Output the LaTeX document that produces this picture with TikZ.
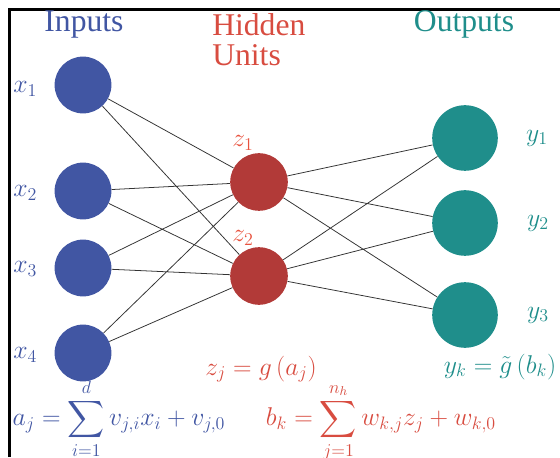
\documentclass[tikz,border=0pt]{standalone}
\usepackage{fix-cm}
\usepackage{amsmath,amssymb}
\usepackage{fontspec}
\setmainfont{Liberation Serif}
\usepackage{xcolor}
\usetikzlibrary{positioning}

\definecolor{inblue}{HTML}{4156A3}
\definecolor{hidred}{HTML}{B23A38}
\definecolor{outteal}{HTML}{1F8E8B}
\definecolor{txtred}{HTML}{D84C40}
\definecolor{lblred}{HTML}{E8533F}

\begin{document}
\begin{tikzpicture}[
  inunit/.style={circle, fill=inblue, minimum size=1.42cm, inner sep=0pt},
  hidunit/.style={circle, fill=hidred, minimum size=1.44cm, inner sep=0pt},
  outunit/.style={circle, fill=outteal, minimum size=1.64cm, inner sep=0pt},
  edge/.style={draw=black!80, line width=0.55pt},
  ttl/.style={inner sep=0pt, font=\fontsize{22.5}{21.5}\selectfont},
  mth/.style={inner sep=0pt, font=\fontsize{18.3}{22}\selectfont}
]
\useasboundingbox (0,0) rectangle (14,11.425);

% frame
\draw[line width=2.2pt] (0.2375,0) -- (0.2375,11.1875) -- (14,11.1875);

% titles
\node[ttl, inblue, anchor=base] (intitle) at (2.1,10.625) {Inputs};
\node[ttl, txtred, anchor=north west, align=left] (hidtitle) at (5.3,11.1) {Hidden\\Units};
\node[ttl, outteal, anchor=base] (outtitle) at (11.6,10.625) {Outputs};

% units
\node[inunit] (x1) at (2.075,9.3) {};
\node[inunit] (x2) at (2.075,6.65) {};
\node[inunit] (x3) at (2.075,4.725) {};
\node[inunit] (x4) at (2.075,2.6) {};
\node[hidunit] (z1) at (6.475,6.875) {};
\node[hidunit] (z2) at (6.475,4.525) {};
\node[outunit] (y1) at (11.625,7.975) {};
\node[outunit] (y2) at (11.625,5.85) {};
\node[outunit] (y3) at (11.625,3.55) {};

% weights
\draw[edge] (x1) -- (z1) (x1) -- (z2)
            (x2) -- (z1) (x2) -- (z2)
            (x3) -- (z1) (x3) -- (z2)
            (x4) -- (z1) (x4) -- (z2);
\draw[edge] (z1) -- (y1) (z1) -- (y2) (z1) -- (y3)
            (z2) -- (y1) (z2) -- (y2) (z2) -- (y3);

% unit labels
\node[mth, inblue] (lx1) at (0.63,9.2) {$x_1$};
\node[mth, inblue] (lx2) at (0.63,6.6) {$x_2$};
\node[mth, inblue] (lx3) at (0.63,4.7) {$x_3$};
\node[mth, inblue] (lx4) at (0.63,2.55) {$x_4$};
\node[mth, lblred] (lz1) at (6.075,7.85) {$z_1$};
\node[mth, lblred] (lz2) at (6.075,5.475) {$z_2$};
\node[mth, outteal] (ly1) at (13.425,7.975) {$y_1$};
\node[mth, outteal] (ly2) at (13.45,5.85) {$y_2$};
\node[mth, outteal] (ly3) at (13.45,3.55) {$y_3$};

% equations
\node[mth, txtred, anchor=base] (zeq) at (6.525,2.05) {$z_j = g\,(a_j)$};
\node[mth, outteal, anchor=base] (yeq) at (12.5,2.1) {$y_k = \tilde{g}\,(b_k)$};
\node[mth, inblue, anchor=base] (aeq) at (2.975,0.78)
  {$\displaystyle a_j = \sum_{i=1}^{d} v_{j,i}x_i + v_{j,0}$};
\node[mth, txtred, anchor=base] (beq) at (9.525,0.78)
  {$\displaystyle b_k = \sum_{j=1}^{n_h} w_{k,j}z_j + w_{k,0}$};
\end{tikzpicture}
\end{document}
